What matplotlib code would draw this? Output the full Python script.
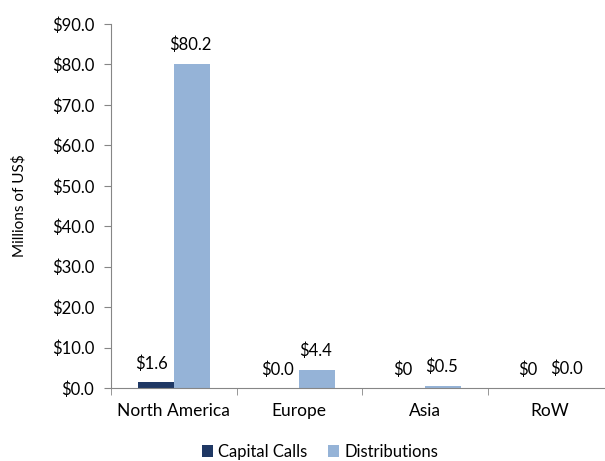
import matplotlib
matplotlib.use("Agg")
import matplotlib.pyplot as plt
import numpy as np

# regions and values (millions of US$)
regions = ["North America", "Europe", "Asia", "RoW"]
capital_calls = [1.6, 0.0, 0.0, 0.0]
distributions = [80.2, 4.4, 0.5, 0.0]
capital_labels = ["$1.6", "$0.0", "$0", "$0"]
dist_labels = ["$80.2", "$4.4", "$0.5", "$0.0"]
yticks = [0, 10, 20, 30, 40, 50, 60, 70, 80, 90]

plt.rcParams['font.family'] = ['Lato', 'DejaVu Sans']

fig = plt.figure(figsize=(6.05, 4.61), dpi=100)
# axes runs a bit past the right edge, like the cropped original
ax = fig.add_axes([111/605, 73/461, 502/605, 364/461])

x = np.arange(len(regions))
w = 0.287
b1 = ax.bar(x - w/2, capital_calls, w, color='#1f3864', label='Capital Calls')
b2 = ax.bar(x + w/2, distributions, w, color='#95b3d7', label='Distributions')

for bar, lab in zip(b1, capital_labels):
    ax.annotate(lab, (bar.get_x() + bar.get_width()/2, bar.get_height()),
                xytext=(-3, 7), textcoords='offset points', ha='center', va='bottom',
                fontsize=12)
for bar, lab in zip(b2, dist_labels):
    ax.annotate(lab, (bar.get_x() + bar.get_width()/2, bar.get_height()),
                xytext=(-1, 8), textcoords='offset points', ha='center', va='bottom',
                fontsize=12)

ax.set_xlim(-0.5, len(regions) - 0.5)
ax.set_ylim(0, 90)
ax.set_yticks(yticks)
ax.set_yticklabels(['${:.1f}'.format(v) for v in yticks], fontsize=12)
ax.set_xticks(x)
ax.set_xticklabels(regions, fontsize=12.5)
ax.set_xticks(np.arange(len(regions) + 1) - 0.5, minor=True)
ax.tick_params(axis='x', which='major', length=0, pad=11)
ax.tick_params(axis='x', which='minor', length=5, color='#868686')
ax.tick_params(axis='y', length=5, color='#868686', pad=7)

for s in ['top', 'right']:
    ax.spines[s].set_visible(False)
for s in ['left', 'bottom']:
    ax.spines[s].set_color('#868686')

ax.set_ylabel('Millions of US$', fontsize=11, labelpad=18)

fig.legend(loc='center', bbox_to_anchor=(320/605, 1 - 452/461), ncol=2,
           frameon=False, fontsize=12, handlelength=0.7, handleheight=0.7,
           handletextpad=0.3, columnspacing=1.2)

fig.savefig('out.png', dpi=100)
